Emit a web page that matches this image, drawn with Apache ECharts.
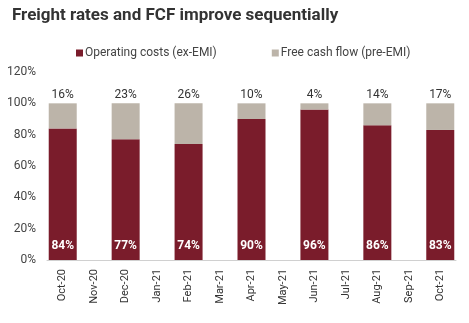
<!DOCTYPE html>
<html><head><meta charset="utf-8">
<script src="https://cdn.jsdelivr.net/npm/echarts@6/dist/echarts.min.js"></script>
<style>html,body{margin:0;padding:0;background:#fff}#c{width:469px;height:323px}</style>
</head><body><div id="c"></div>
<script>
var categories = ['Oct-20','Nov-20','Dec-20','Jan-21','Feb-21','Mar-21','Apr-21','May-21','Jun-21','Jul-21','Aug-21','Sep-21','Oct-21'];
var operatingCosts = [84, null, 77, null, 74, null, 90, null, 96, null, 86, null, 83];
var freeCashFlow = [16, null, 23, null, 26, null, 10, null, 4, null, 14, null, 17];
var yTicks = [0, 20, 40, 60, 80, 100, 120];

var chart = echarts.init(document.getElementById('c'));
chart.setOption({
  animation: false,
  textStyle: {fontFamily: 'Roboto'},
  title: {
    text: 'Freight rates and FCF improve sequentially',
    left: 7, top: 2,
    textStyle: {fontSize: 17, fontWeight: 'bold', color: '#333', fontFamily: 'Roboto'}
  },
  legend: {
    top: 42, left: 71,
    itemGap: 55,
    itemWidth: 7, itemHeight: 7,
    icon: 'rect',
    textStyle: {fontSize: 12, color: '#444', padding: [0,0,0,-3]},
    data: ['Operating costs (ex-EMI)', 'Free cash flow (pre-EMI)']
  },
  grid: {left: 47, right: 13, top: 72, bottom: 63, containLabel: false},
  xAxis: {
    type: 'category',
    data: categories,
    axisLine: {lineStyle: {color: '#d0d0d0'}},
    axisTick: {show: false},
    axisLabel: {rotate: 90, fontSize: 11, color: '#333', margin: 9, interval: 0}
  },
  yAxis: {
    type: 'value', min: yTicks[0], max: yTicks[yTicks.length-1], interval: 20,
    splitLine: {show: false},
    axisLine: {show: false}, axisTick: {show: false},
    axisLabel: {fontSize: 12, color: '#444', margin: 11, formatter: '{value}%'}
  },
  series: [
    {
      name: 'Operating costs (ex-EMI)', type: 'bar', stack: 'a',
      data: operatingCosts, barCategoryGap: '11%',
      itemStyle: {color: '#7a1c2b'},
      label: {show: true, position: 'insideBottom', distance: 8, color: '#fff', fontSize: 12, fontWeight: 'bold', formatter: '{c}%'}
    },
    {
      name: 'Free cash flow (pre-EMI)', type: 'bar', stack: 'a',
      data: freeCashFlow, barCategoryGap: '11%',
      itemStyle: {color: '#bcb4a9'},
      label: {show: true, position: 'top', distance: 2, color: '#333', fontSize: 12, formatter: '{c}%'}
    }
  ]
});
</script></body></html>
